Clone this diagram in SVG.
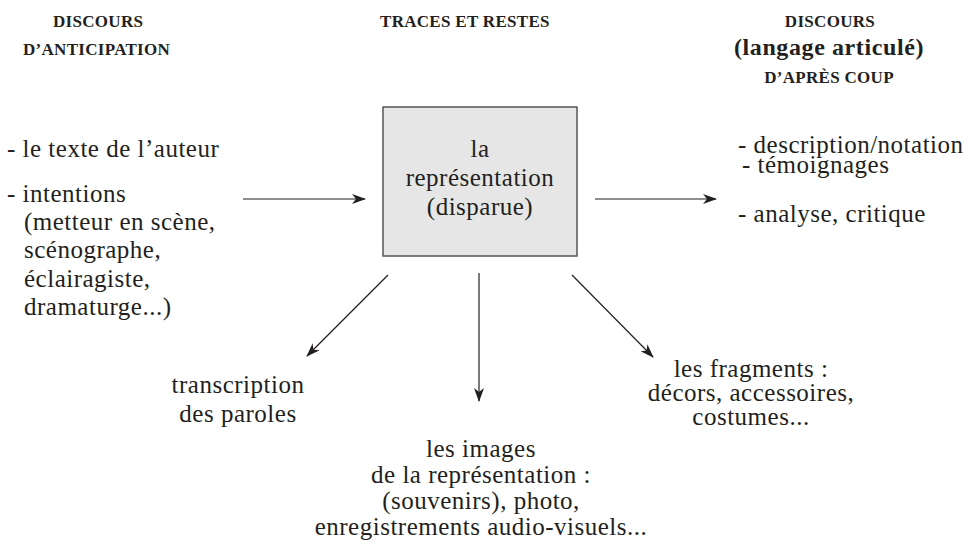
<svg xmlns="http://www.w3.org/2000/svg" width="977" height="546" viewBox="0 0 977 546">
<defs>
<style>
text{font-family:"Liberation Serif","Times New Roman",serif;fill:#231f20}
.h{font-size:17px;font-weight:bold;letter-spacing:0.3px}
.b{font-size:25px;letter-spacing:0.5px}
.bb{font-size:24px;font-weight:bold;letter-spacing:0.6px}
.m{text-anchor:middle}
.c{stroke:#231f20;stroke-width:1.2;fill:none;marker-end:url(#ah)}
</style>
<marker id="ah" viewBox="0 0 14 10" refX="13" refY="5" markerWidth="14" markerHeight="10" markerUnits="userSpaceOnUse" orient="auto">
<path d="M0,0 L14,5 L0,10 L4,5 Z" fill="#231f20"/>
</marker>
</defs>
<rect width="977" height="546" fill="#fff"/>
<g id="head-left">
<text class="h" x="53" y="27">DISCOURS</text>
<text class="h" x="23" y="55">D’ANTICIPATION</text>
</g>
<g id="head-center">
<text class="h" x="380" y="27">TRACES ET RESTES</text>
</g>
<g id="head-right">
<text class="h m" x="830" y="27">DISCOURS</text>
<text class="bb m" x="829" y="55">(langage articulé)</text>
<text class="h m" x="829" y="83">D’APRÈS COUP</text>
</g>
<g id="left">
<text class="b" x="7" y="157">- le texte de l’auteur</text>
<text class="b" x="7" y="202">- intentions</text>
<text class="b" x="24" y="230">(metteur en scène,</text>
<text class="b" x="24" y="258">scénographe,</text>
<text class="b" x="24" y="287">éclairagiste,</text>
<text class="b" x="24" y="315">dramaturge...)</text>
</g>
<g id="box">
<rect x="383" y="107" width="194" height="149" fill="#e6e6e6" stroke="#555" stroke-width="1.5"/>
<text class="b m" x="480" y="157">la</text>
<text class="b m" x="480" y="186">représentation</text>
<text class="b m" x="480" y="215">(disparue)</text>
</g>
<g id="right">
<text class="b" x="738" y="153">- description/notation</text>
<text class="b" x="742" y="173">- témoignages</text>
<text class="b" x="738" y="222">- analyse, critique</text>
</g>
<g id="transcription">
<text class="b m" x="238" y="393">transcription</text>
<text class="b m" x="238" y="422">des paroles</text>
</g>
<g id="images">
<text class="b m" x="481" y="457">les images</text>
<text class="b m" x="481" y="483">de la représentation :</text>
<text class="b m" x="481" y="509">(souvenirs), photo,</text>
<text class="b m" x="481" y="535">enregistrements audio-visuels...</text>
</g>
<g id="fragments">
<text class="b m" x="751" y="377">les fragments :</text>
<text class="b m" x="751" y="401">décors, accessoires,</text>
<text class="b m" x="751" y="425">costumes...</text>
</g>
<g id="connectors">
<line class="c" x1="243" y1="199" x2="365" y2="199"/>
<line class="c" x1="595" y1="199" x2="716" y2="199"/>
<line class="c" x1="388" y1="275" x2="307" y2="356"/>
<line class="c" x1="479" y1="273" x2="479" y2="401"/>
<line class="c" x1="572" y1="275" x2="653" y2="357"/>
</g>
</svg>
